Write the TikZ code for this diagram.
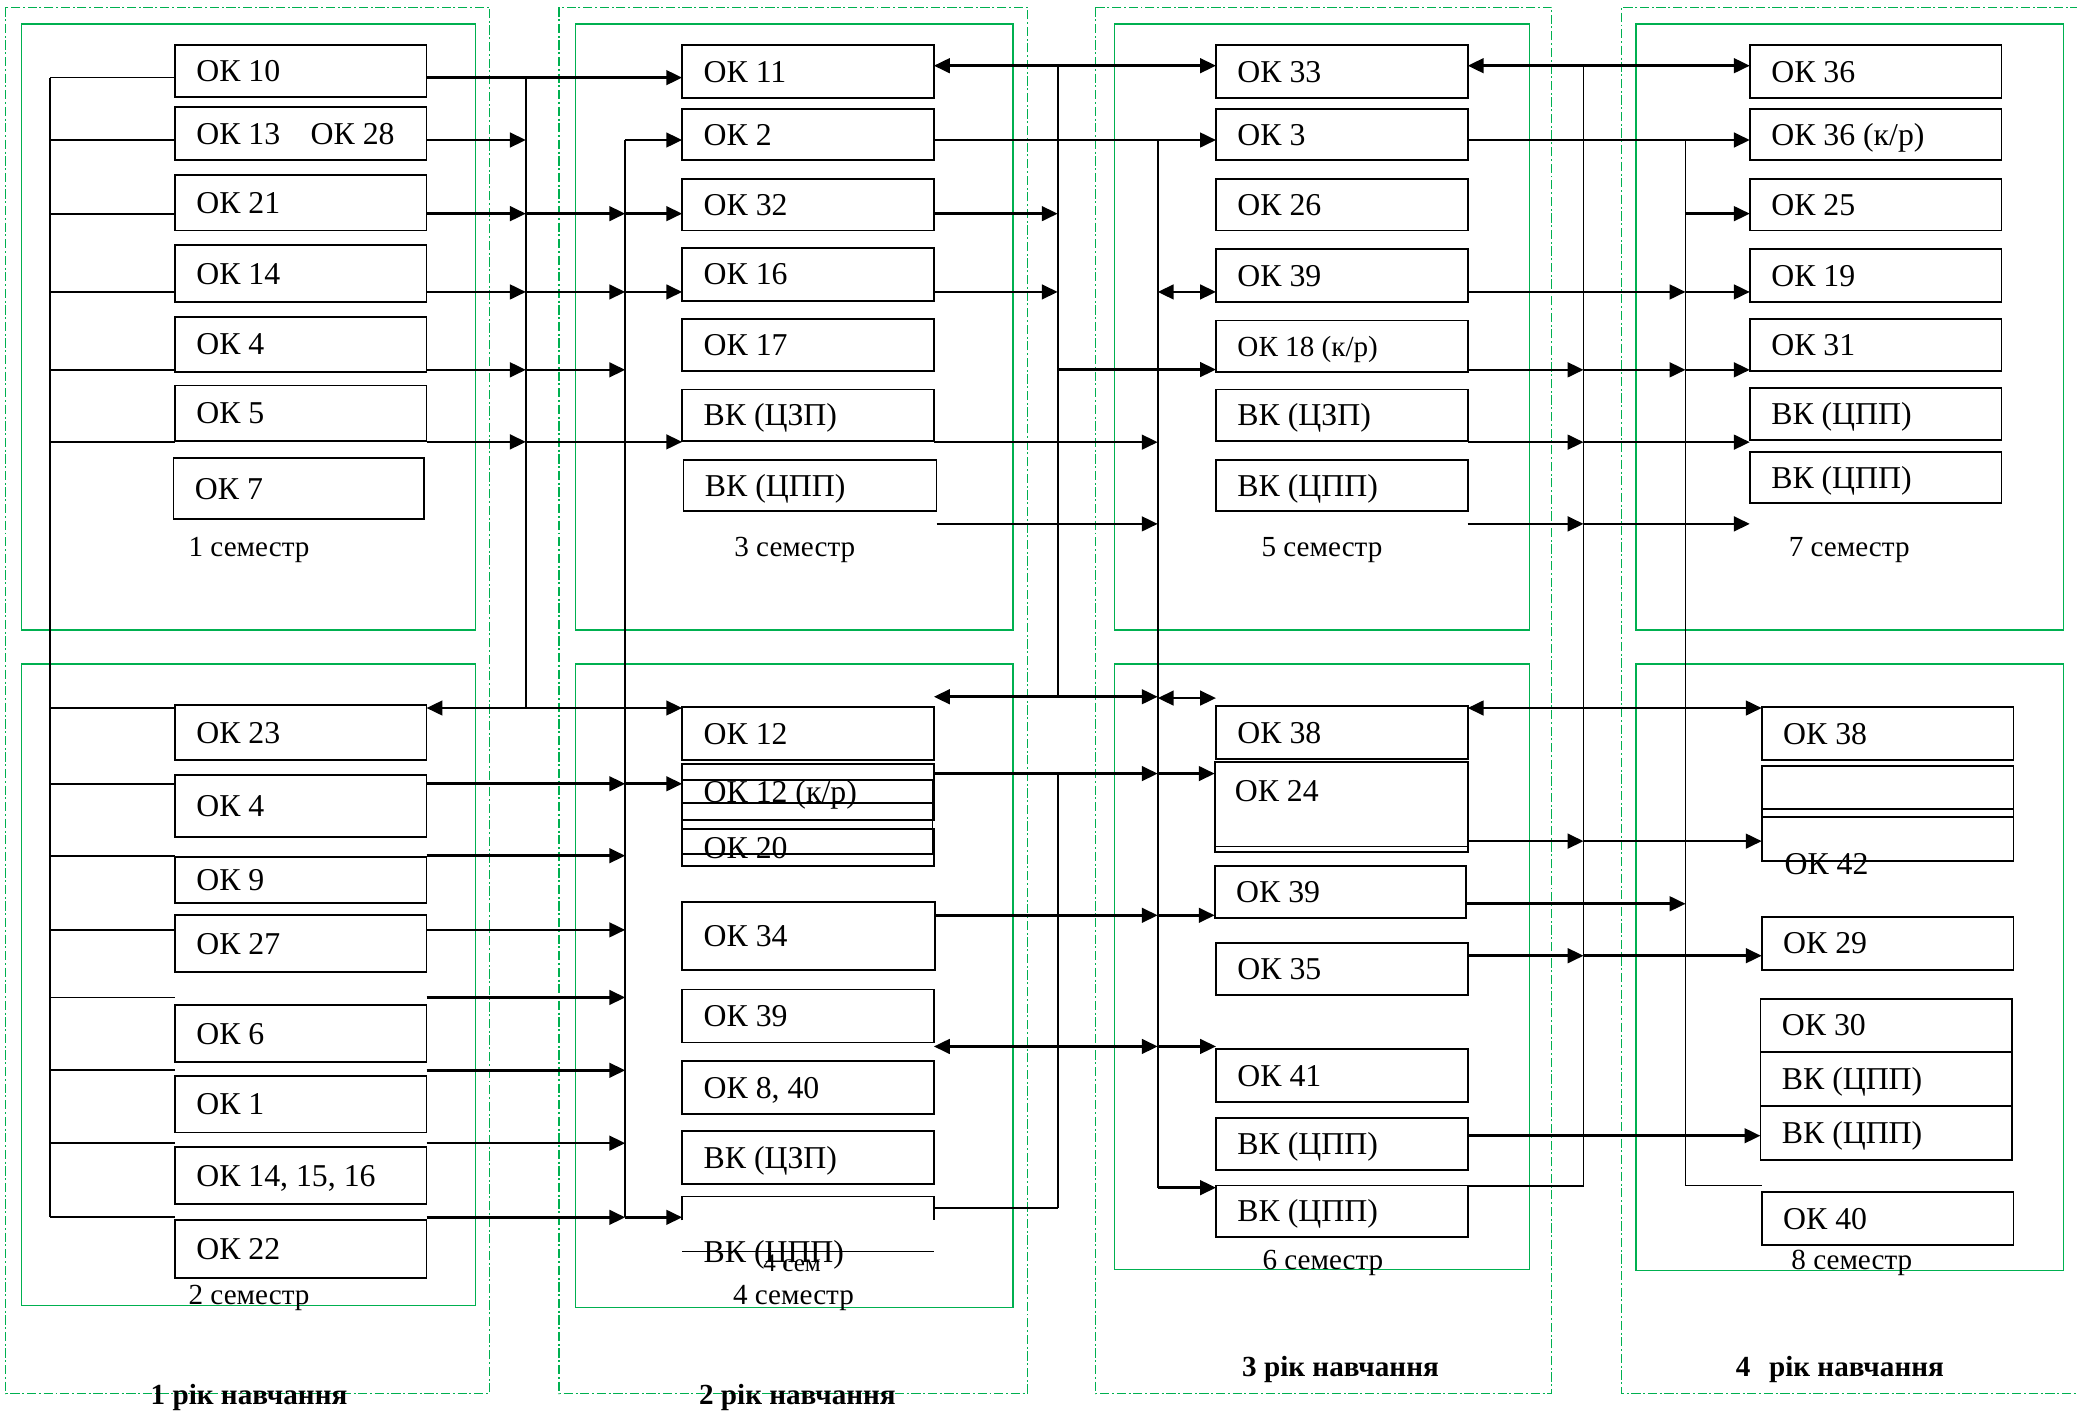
\documentclass[tikz,border=0pt]{standalone}
\usepackage{fontspec}
\setmainfont{Liberation Serif}
\usetikzlibrary{arrows.meta,positioning}
\definecolor{kgreen}{RGB}{0,176,80}

\tikzset{
  box/.style={draw, line width=1.4pt, inner sep=0pt, outer sep=0pt},
  boxline/.style={line width=1.4pt},
  txt/.style={inner sep=0pt, anchor=west, text height=16pt, text depth=0pt, font=\fontsize{24}{28}\selectfont},
  semlbl/.style={inner sep=0pt, font=\fontsize{22}{26}\selectfont},
  yearlbl/.style={inner sep=0pt, font=\fontsize{22}{26}\selectfont\bfseries},
  sem/.style={draw=kgreen, line width=1.1pt},
  year/.style={draw=kgreen, line width=1pt, dash pattern=on 7pt off 2pt on 1.5pt off 2pt},
  bus/.style={line width=1.3pt},
  arr/.style={line width=2pt, ->},
  darr/.style={line width=2pt, <->},
}

\newcommand\kbox[6]{%
  \node[box, minimum width={#4-#2}, minimum height={#5-#3}] (#1) at ({(#2+#4)/2},{(#3+#5)/2}) {};
  \node[txt, right=16pt of #1.west] (#1t) {#6};}
\newcommand\harr[4][arr]{\draw[#1] (#2 |- 0,#4) -- (#3 |- 0,#4);}

\begin{document}
\begin{tikzpicture}[x=1pt, y=-1pt, >={Triangle[length=12pt,width=11pt]}]
\useasboundingbox (0,0) rectangle (1568,1067.5);

\draw[year] (4.4,5.5) rectangle (369.6,1052);
\draw[year] (422,5.5) rectangle (775.6,1052);
\draw[year] (827,5.5) rectangle (1171.5,1052);
\draw[year] (1570,5.5) -- (1224,5.5) -- (1224,1052) -- (1570,1052);

\draw[sem] (16.2,18) rectangle (359,475.5);
\draw[sem] (16.2,501.4) rectangle (359,985.7);
\draw[sem] (434.6,18) rectangle (764.7,475.5);
\draw[sem] (434.6,501.4) rectangle (764.7,987);
\draw[sem] (841.3,18) rectangle (1154.7,475.5);
\draw[sem] (841.3,501.4) rectangle (1154.7,958.5);
\draw[sem] (1235,18) rectangle (1557.7,475.5);
\draw[sem] (1235,501.4) rectangle (1557.7,959);

\node[semlbl] (s1) at (188,415) {1 семестр};
\node[semlbl] (s2) at (188,979.6) {2 семестр};
\node[semlbl] (s3) at (600,415) {3 семестр};
\node[semlbl] (s4) at (599,979.6) {4 семестр};
\node[semlbl] (s5) at (998,415) {5 семестр};
\node[semlbl] (s6) at (998.7,953.5) {6 семестр};
\node[semlbl] (s7) at (1396,415) {7 семестр};
\node[semlbl] (s8) at (1398,953.5) {8 семестр};

\node[yearlbl] (y1) at (188,1055) {1 рік навчання};
\node[yearlbl] (y2) at (602,1055) {2 рік навчання};
\node[yearlbl] (y3) at (1012,1034) {3 рік навчання};
\node[yearlbl] (y4) at (1389,1034) {4\hspace{14pt}рік навчання};

\kbox{c1a}{132}{34}{322}{73}{ОК 10}
\kbox{c1b}{132}{81}{322}{121}{ОК 13\hspace{23pt}ОК 28}
\kbox{c1c}{132}{132}{322}{174}{ОК 21}
\kbox{c1d}{132}{185}{322}{228}{ОК 14}
\kbox{c1e}{132}{239}{322}{281}{ОК 4}
\kbox{c1f}{132}{291}{322}{333}{ОК 5}
\kbox{c1g}{131}{346}{320}{392}{ОК 7}

\kbox{c2a}{132}{532}{322}{574}{ОК 23}
\kbox{c2b}{132}{585}{322}{632}{ОК 4}
\kbox{c2c}{132}{647}{322}{682}{ОК 9}
\kbox{c2d}{132}{691}{322}{734}{ОК 27}
\kbox{c2e}{132}{759}{322}{802}{ОК 6}
\kbox{c2f}{132}{812}{322}{855}{ОК 1}
\kbox{c2g}{132}{866}{322}{909}{ОК 14, 15, 16}
\kbox{c2h}{132}{921}{322}{965}{ОК 22}

\kbox{c3a}{515}{34}{705}{74}{ОК 11}
\kbox{c3b}{515}{82}{705}{121}{ОК 2}
\kbox{c3c}{515}{135}{705}{174}{ОК 32}
\kbox{c3d}{515}{187}{705}{227}{ОК 16}
\kbox{c3e}{515}{241}{705}{280}{ОК 17}
\kbox{c3f}{515}{294}{705}{333}{ВК (ЦЗП)}
\kbox{c3g}{516}{347}{707}{386}{ВК (ЦПП)}

\kbox{c4a}{515}{534}{705}{574}{ОК 12}
\kbox{c4b}{515}{577}{705}{619}{ОК 12 (к/р)}
\kbox{c4c}{515}{589}{704}{645}{}
\kbox{c4d}{515}{606}{704}{626}{}
\kbox{c4e}{515}{626}{705}{654}{ОК 20}
\kbox{c4f}{515}{681}{706}{732}{ОК 34}
\kbox{c4g}{515}{747}{705}{787}{ОК 39}
\kbox{c4h}{515}{801}{705}{841}{ОК 8, 40}
\kbox{c4i}{515}{854}{705}{894}{ВК (ЦЗП)}
\node[inner sep=0pt, outer sep=0pt, minimum width=190pt, minimum height=41.5pt] (c4j) at (610,924) {};
\node[txt] (c4jt) at ([xshift=16pt]c4j.south west) {ВК (ЦПП)};
\node[inner sep=0pt, font=\fontsize{19}{22}\selectfont] (c4jn) at ([shift={(-12,9)}]c4j.south) {4 сем};
\draw[boxline] ([yshift=-18pt]c4j.north west) -- (c4j.north west) -- (c4j.north east) -- ([yshift=-18pt]c4j.north east);
\draw[boxline] (c4j.south west) -- (c4j.south east);

\kbox{c5a}{918}{34}{1108}{74}{ОК 33}
\kbox{c5b}{918}{82}{1108}{121}{ОК 3}
\kbox{c5c}{918}{135}{1108}{174}{ОК 26}
\kbox{c5d}{918}{188}{1108}{228}{ОК 39}
\kbox{c5e}{918}{242}{1108}{281}{{\fontsize{22}{26}\selectfont ОК 18 (к/р)}}
\kbox{c5f}{918}{294}{1108}{333}{ВК (ЦЗП)}
\kbox{c5g}{918}{347}{1108}{386}{ВК (ЦПП)}

\kbox{c6a}{918}{533}{1108}{573}{ОК 38}
\kbox{c6b}{917}{575}{1108}{639}{}
\node[txt] (c6bt) at ([shift={(15,22)}]c6b.north west) {ОК 24};
\draw[boxline] (c6b.south west) -- ++(0,4) -- ([yshift=-4pt]c6b.south east) -- (c6b.south east);
\kbox{c6c}{917}{654}{1107}{693}{ОК 39}
\kbox{c6d}{918}{712}{1108}{751}{ОК 35}
\kbox{c6e}{918}{792}{1108}{832}{ОК 41}
\kbox{c6f}{918}{844}{1108}{883}{ВК (ЦПП)}
\kbox{c6g}{918}{895}{1108}{934}{ВК (ЦПП)}

\kbox{c7a}{1321}{34}{1511}{74}{ОК 36}
\kbox{c7b}{1321}{82}{1511}{121}{ОК 36 (к/р)}
\kbox{c7c}{1321}{135}{1511}{174}{ОК 25}
\kbox{c7d}{1321}{188}{1511}{228}{ОК 19}
\kbox{c7e}{1321}{241}{1511}{280}{ОК 31}
\kbox{c7f}{1321}{293}{1511}{332}{ВК (ЦПП)}
\kbox{c7g}{1321}{341}{1511}{380}{ВК (ЦПП)}

\kbox{c8a}{1330}{534}{1520}{574}{ОК 38}
\kbox{c8b}{1330}{578}{1520}{617}{}
\kbox{c8c}{1330}{611}{1520}{650}{}
\node[txt] (c8ct) at ([shift={(17,2)}]c8c.south west) {ОК 42};
\kbox{c8d}{1330}{692}{1520}{732}{ОК 29}
\kbox{c8e}{1329}{754}{1519}{794}{ОК 30}
\kbox{c8f}{1329}{794}{1519}{835}{ВК (ЦПП)}
\kbox{c8g}{1329}{835}{1519}{876}{ВК (ЦПП)}
\kbox{c8h}{1330}{900}{1520}{940}{ОК 40}

\coordinate (bL) at (38,0);
\coordinate (b1) at (397,0);
\coordinate (b2) at (472,0);
\coordinate (b3) at (798.5,0);
\coordinate (b4) at (874,0);
\coordinate (b5) at (1195.5,0);
\coordinate (b6) at (1272.5,0);

\draw[bus] (bL |- 0,58.6) -- (bL |- 0,919);
\draw[bus] (b1 |- 0,58.6) -- (b1 |- 0,534.5);
\draw[bus] (b2 |- 0,105.7) -- (b2 |- 0,919);
\draw[bus] (b3 |- 0,49.6) -- (b3 |- 0,526);
\draw[bus] (b3 |- 0,584) -- (b3 |- 0,911.7);
\draw[bus] (b4 |- 0,105.7) -- (b4 |- 0,896.6);
\draw[bus] (b5 |- 0,49.6) -- (b5 |- 0,895.6);
\draw[bus] (b6 |- 0,105.7) -- (b6 |- 0,895);

\foreach \n/\y in {c1a/58.6, c1b/105.7, c1c/161.3, c1d/220.4, c1e/279.2, c1f/333.6,
                   c2a/534.5, c2b/591.7, c2c/646, c2d/702, c2e/753, c2f/808, c2g/863, c2h/919}
  {\harr[bus]{bL}{\n.west}{\y}}

\harr{c1a.east}{c3a.west}{58.6}
\harr{c1b.east}{b1}{105.7}
\harr{c1c.east}{b1}{161.3}
\harr{c1d.east}{b1}{220.4}
\harr{c1e.east}{b1}{279.2}
\harr{c1f.east}{b1}{333.6}
\harr{b1}{b2}{161.3}
\harr{b1}{b2}{220.4}
\harr{b1}{b2}{279.2}
\harr{b2}{c3b.west}{105.7}
\harr{b2}{c3c.west}{161.3}
\harr{b2}{c3d.west}{220.4}
\harr{b1}{c3f.west}{333.6}

\harr[darr]{c2a.east}{c4a.west}{534.5}
\harr{c2b.east}{b2}{591.7}
\harr{b2}{c4b.west}{591.7}
\harr{c2c.east}{b2}{646}
\harr{c2d.east}{b2}{702}
\harr{c2e.east}{b2}{753}
\harr{c2f.east}{b2}{808}
\harr{c2g.east}{b2}{863}
\harr{c2h.east}{b2}{919}
\harr{b2}{c4j.west}{919}

\harr[darr]{c3a.east}{c5a.west}{49.6}
\harr{c3b.east}{c5b.west}{105.7}
\harr{c3c.east}{b3}{161.3}
\harr{c3d.east}{b3}{220.4}
\harr{b3}{c5e.west}{279}
\harr{c3f.east}{b4}{333.8}
\harr{c3g.east}{b4}{395.5}

\harr[darr]{c4a.east}{b4}{526}
\harr[darr]{b4}{c6a.west}{527}
\harr{c4b.east}{b4}{584}
\harr{b4}{c6b.west}{584}
\harr{c4f.east}{b4}{691}
\harr{b4}{c6c.west}{691}
\harr[darr]{c4g.east}{b4}{790}
\harr{b4}{c6e.west}{790}
\harr[bus]{c4j.east}{b3}{911.7}

\harr[darr]{c5a.east}{c7a.west}{49.6}
\harr{c5b.east}{c7b.west}{105.7}
\harr{b6}{c7c.west}{161.3}
\harr[darr]{b4}{c5d.west}{220.4}
\harr{c5d.east}{b6}{220.4}
\harr{b6}{c7d.west}{220.4}
\harr{c5e.east}{b5}{279.2}
\harr{b5}{b6}{279.2}
\harr{b6}{c7e.west}{279.2}
\harr{c5f.east}{b5}{333.8}
\harr{b5}{c7f.west}{333.8}
\harr{c5g.east}{b5}{395.5}
\harr{b5}{c7g.west}{395.5}

\harr[darr]{c6a.east}{c8a.west}{534.5}
\harr{c6b.east}{b5}{635}
\harr{b5}{c8c.west}{635}
\harr{c6c.east}{b6}{682.3}
\harr{c6d.east}{b5}{721.5}
\harr{b5}{c8d.west}{721.5}
\harr{c6f.east}{c8g.west}{857.4}
\harr{b4}{c6g.west}{896.6}
\harr[bus]{c6g.east}{b5}{895.6}
\harr[bus]{b6}{c8h.west}{895}

\end{tikzpicture}
\end{document}
